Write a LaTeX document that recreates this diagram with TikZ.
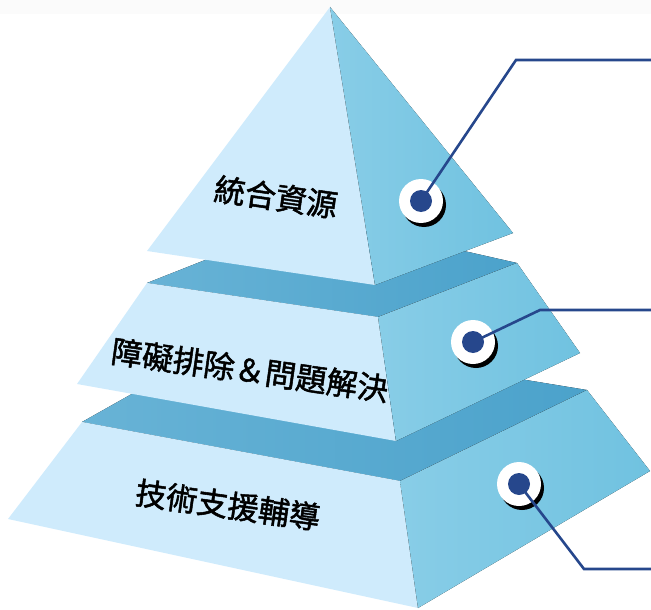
\documentclass[tikz,border=0pt]{standalone}
\usepackage{fontspec}
\newfontfamily\cjk[FakeBold=1.6]{Noto Sans CJK TC}
\usepackage{tikz}
\usetikzlibrary{calc,positioning,shadows}
\definecolor{facefront}{HTML}{CFEBFC}
\definecolor{sideleft}{HTML}{88CDE7}
\definecolor{sideright}{HTML}{70C2E0}
\definecolor{topleft}{HTML}{68B3D6}
\definecolor{topright}{HTML}{4BA2CB}
\definecolor{linkblue}{HTML}{26478C}
\tikzset{%
	front/.style  = {fill=facefront},
	side/.style   = {left color=sideleft, right color=sideright},
	band/.style   = {left color=topleft, right color=topright},
	layer/.style  = {font=\cjk\fontsize{31}{34}\selectfont, rotate=-8, inner sep=0pt},
	ring/.style   = {circle, fill=white, minimum size=44pt, inner sep=0pt,
	                 drop shadow={shadow xshift=3pt, shadow yshift=-4pt, fill=black, opacity=1}},
	dot/.style    = {circle, fill=linkblue, minimum size=22pt, inner sep=0pt},
	link/.style   = {draw=linkblue, line width=2.6pt, line join=miter},
}

\begin{document}
\begin{tikzpicture}[x=1pt,y=-1pt]
	\useasboundingbox (0,0) rectangle (651,610);
	\fill[black!1.5] (0,0) rectangle (651,14);
	
	% bottom layer
	\fill[band]  (82,422) -- (400,481) -- (587,390) -- (240,333) -- cycle;
	\fill[front] (82,422) -- (400,481) -- (418,608) -- (8,519) -- cycle;
	\fill[side]  (400,481) -- (587,390) -- (650,471) -- (418,608) -- cycle;
	
	% middle layer
	\fill[band]  (147,283) -- (378,317) -- (517,263) -- (314,217) -- cycle;
	\fill[front] (147,283) -- (378,317) -- (396,441) -- (77,384) -- cycle;
	\fill[side]  (378,317) -- (517,263) -- (580,353) -- (396,441) -- cycle;
	
	% top
	\fill[front] (330,7) -- (147,251) -- (375,285) -- cycle;
	\fill[side]  (330,7) -- (375,285) -- (513,233) -- cycle;
	
	\node[layer] (top) at (276,197) {統合資源};
	\node[layer] (mid) at (250,370) {障礙排除＆問題解決};
	\node[layer] (bot) at (228,505) {技術支援輔導};
	
	% markers
	\node[ring] (r1) at (421,201) {};
	\node[ring] (r2) at (473,342) {};
	\node[ring] (r3) at (519,484) {};
	\node[dot] (d1) at (r1) {};
	\node[dot] (d2) at (r2) {};
	\node[dot] (d3) at (r3) {};
	
	\coordinate (k1) at (516,60);  \coordinate (e1) at (651,60);
	\coordinate (k2) at (540,310); \coordinate (e2) at (651,310);
	\coordinate (k3) at (584,569); \coordinate (e3) at (651,569);
	\draw[link] (d1.center) -- (k1) -- (e1);
	\draw[link] (d2.center) -- (k2) -- (e2);
	\draw[link] (d3.center) -- (k3) -- (e3);
\end{tikzpicture}
\end{document}
